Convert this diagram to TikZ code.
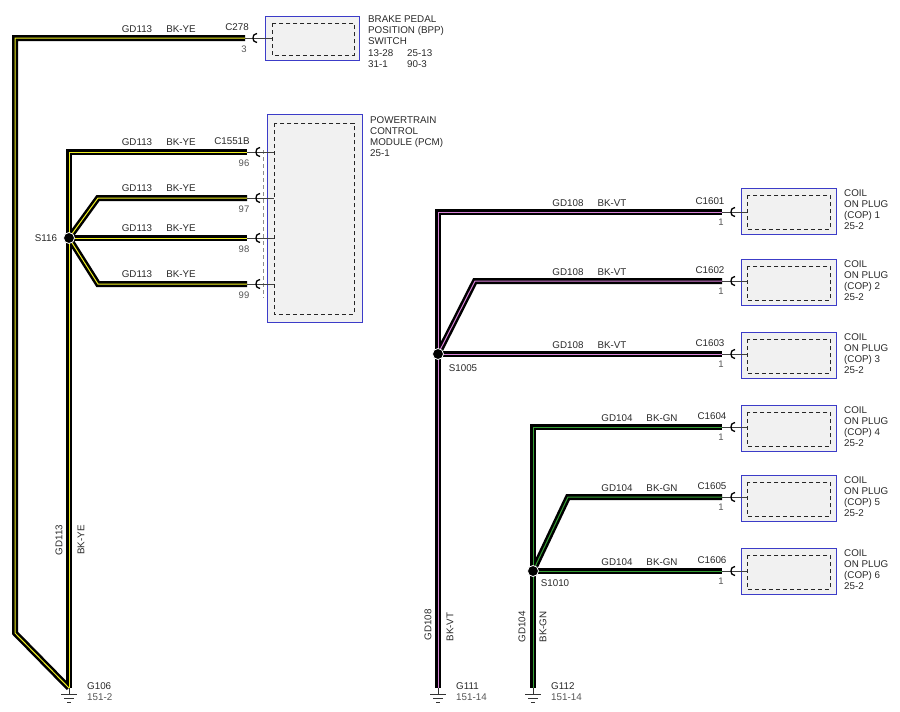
\documentclass[tikz,border=0pt]{standalone}
\usepackage{fontspec}
\setmainfont{Liberation Sans}
\usetikzlibrary{calc}
\definecolor{txt}{HTML}{2A2A2A}
\definecolor{pintxt}{HTML}{555555}
\definecolor{boxblue}{HTML}{3C3CC8}
\definecolor{boxfill}{HTML}{F1F1F1}
\definecolor{ye}{HTML}{F0F020}
\definecolor{vt}{HTML}{D880D8}
\definecolor{gn}{HTML}{34A034}
\begin{document}
\begin{tikzpicture}[x=1pt,y=-1pt,
  lbl/.style={font=\fontsize{9.8}{11}\selectfont, text=txt, inner sep=0pt},
  pinlbl/.style={font=\fontsize{9.5}{10}\selectfont, text=pintxt, inner sep=0pt, anchor=base},
  wireblk/.style={line width=6pt, black, line join=miter, line cap=butt},
  stripe/.style={line width=1pt, line join=miter, line cap=butt},
  thinw/.style={line width=0.8pt, black!75},
  connsym/.style={line width=1.3pt, black},
  compbox/.style={draw=boxblue, line width=1.1pt, fill=boxfill, anchor=north west, inner sep=0pt},
  innerdash/.style={draw=black!85, line width=0.8pt, dash pattern=on 4pt off 3pt},
  gnd/.style={line width=0.8pt, black!80},
  splice/.style={circle, fill=black, draw=white, line width=0.8pt, minimum size=11pt, inner sep=0pt}
]
\useasboundingbox (0,0) rectangle (900,712);
\fill[white] (0,0) rectangle (900,712);

% ---------- coordinates ----------
% GD113 group
\coordinate (a1) at (245,38);
\coordinate (a2) at (15,38);
\coordinate (a3) at (15,633);
\coordinate (g106) at (69,688);
\coordinate (s116) at (69,238);
\coordinate (p96) at (247,152);
\coordinate (p96b) at (69,152);
\coordinate (p97) at (247,198);
\coordinate (p97b) at (98,198);
\coordinate (p98) at (247,238);
\coordinate (p99) at (247,284);
\coordinate (p99b) at (98,284);
% GD108 group
\coordinate (s1005) at (438,354);
\coordinate (c1) at (722,212);
\coordinate (c1b) at (438,212);
\coordinate (c2) at (722,281);
\coordinate (c2b) at (475,281);
\coordinate (c3) at (722,354);
\coordinate (g111) at (438,688);
% GD104 group
\coordinate (s1010) at (533,571);
\coordinate (c4) at (722,427);
\coordinate (c4b) at (533,427);
\coordinate (c5) at (722,497);
\coordinate (c5b) at (568,497);
\coordinate (c6) at (722,571);
\coordinate (g112) at (533,688);

% ---------- components ----------
\node[compbox, minimum width=94pt, minimum height=44pt] (bpp) at (265,16) {};
\draw[innerdash] ($(bpp.north west)+(7,7)$) rectangle ($(bpp.south east)+(-6,-6)$);
\node[compbox, minimum width=95pt, minimum height=208pt] (pcm) at (267,114) {};
\draw[innerdash] ($(pcm.north west)+(7,9)$) rectangle ($(pcm.south east)+(-9,-9)$);
\coordinate (pcmdt) at (263,150);
\coordinate (pcmdb) at (263,298);
\draw[line width=0.8pt, black!45, dash pattern=on 4pt off 3pt] (pcmdt) -- (pcmdb);

\foreach \i/\t in {1/188,2/259,3/332,4/405,5/475,6/548}{
  \node[compbox, minimum width=95pt, minimum height=46pt] (cop\i) at (741,\t) {};
  \draw[innerdash] ($(cop\i.north west)+(6,7)$) rectangle ($(cop\i.south east)+(-7,-6)$);
  \node[lbl, anchor=base west] (copl\i a) at (844,\t+8) {COIL};
  \node[lbl, anchor=base west] (copl\i b) at (844,\t+19) {ON PLUG};
  \node[lbl, anchor=base west] (copl\i c) at (844,\t+30) {(COP) \i};
  \node[lbl, anchor=base west] (copl\i d) at (844,\t+41) {25-2};
}

% ---------- wires: black ----------
\draw[wireblk] (a1) -- (a2) -- (a3) -- (g106);
\draw[wireblk] (p96) -- (p96b) -- (s116);
\draw[wireblk] (s116) -- (p97b) -- (p97);
\draw[wireblk] (s116) -- (p98);
\draw[wireblk] (s116) -- (p99b) -- (p99);
\draw[wireblk] (s116) -- (g106);
\draw[wireblk] (c1) -- (c1b) -- (s1005);
\draw[wireblk] (s1005) -- (c2b) -- (c2);
\draw[wireblk] (s1005) -- (c3);
\draw[wireblk] (s1005) -- (g111);
\draw[wireblk] (c4) -- (c4b) -- (s1010);
\draw[wireblk] (s1010) -- (c5b) -- (c5);
\draw[wireblk] (s1010) -- (c6);
\draw[wireblk] (s1010) -- (g112);
% ---------- wires: stripes ----------
\draw[stripe, ye] (a1) -- (a2) -- (a3) -- (g106);
\draw[stripe, ye] (p96) -- (p96b) -- (s116);
\draw[stripe, ye] (s116) -- (p97b) -- (p97);
\draw[stripe, ye] (s116) -- (p98);
\draw[stripe, ye] (s116) -- (p99b) -- (p99);
\draw[stripe, ye] (s116) -- (g106);
\draw[stripe, vt] (c1) -- (c1b) -- (s1005);
\draw[stripe, vt] (s1005) -- (c2b) -- (c2);
\draw[stripe, vt] (s1005) -- (c3);
\draw[stripe, vt] (s1005) -- (g111);
\draw[stripe, gn] (c4) -- (c4b) -- (s1010);
\draw[stripe, gn] (s1010) -- (c5b) -- (c5);
\draw[stripe, gn] (s1010) -- (c6);
\draw[stripe, gn] (s1010) -- (g112);

% ---------- splices ----------
\node[splice] (S116) at (s116) {};
\node[splice] (S1005) at (s1005) {};
\node[splice] (S1010) at (s1010) {};
\node[lbl, anchor=center] (S116l) at (46,238) {S116};
\node[lbl, anchor=center] (S1005l) at (463,368) {S1005};
\node[lbl, anchor=center] (S1010l) at (555,583) {S1010};

% ---------- connector pins ----------
\newcommand{\cpin}[3]{% #1 wire end coord, #2 symbol tip x offset, #3 box inner x
  \draw[thinw] (#1) -- ($(#1)+(#3,0)$);
  \draw[connsym] ($(#1)+(#2,0)+(4,-4.5)$) .. controls ($(#1)+(#2,0)+(0.3,-3)$) .. ($(#1)+(#2,0)$)
     .. controls ($(#1)+(#2,0)+(0.3,3)$) .. ($(#1)+(#2,0)+(4,4.5)$);
}
\cpin{a1}{8}{27}
\cpin{p96}{9}{27}
\cpin{p97}{9}{27}
\cpin{p98}{9}{27}
\cpin{p99}{9}{27}
\cpin{c1}{9}{25}
\cpin{c2}{9}{25}
\cpin{c3}{9}{25}
\cpin{c4}{9}{25}
\cpin{c5}{9}{25}
\cpin{c6}{9}{25}

% ---------- wire labels ----------
\node[lbl, anchor=base] (l1) at (137,32) {GD113};
\node[lbl, anchor=base] (l2) at (181,32) {BK-YE};
\node[lbl, anchor=base] (l3) at (237,30.5) {C278};
\node[pinlbl] (l4) at (244,52) {3};

\node[lbl, anchor=base] (m0) at (232,144.5) {C1551B};
\foreach \y/\p in {152/96,198/97,238/98,284/99}{
  \node[lbl, anchor=base] (mg\p) at (137,\y-6.5) {GD113};
  \node[lbl, anchor=base] (mb\p) at (181,\y-6.5) {BK-YE};
  \node[pinlbl] (mp\p) at (244,\y+14) {\p};
}

\foreach \y/\c in {212/1,281/2,354/3}{
  \node[lbl, anchor=base] (ng\c) at (568,\y-5.7) {GD108};
  \node[lbl, anchor=base] (nb\c) at (612,\y-5.7) {BK-VT};
  \node[lbl, anchor=base] (nc\c) at (710,\y-7.7) {C160\c};
  \node[pinlbl] (np\c) at (721,\y+13.3) {1};
}
\foreach \y/\c in {427/4,497/5,571/6}{
  \node[lbl, anchor=base] (ng\c) at (617,\y-5.7) {GD104};
  \node[lbl, anchor=base] (nb\c) at (662,\y-5.7) {BK-GN};
  \node[lbl, anchor=base] (nc\c) at (712,\y-7.7) {C160\c};
  \node[pinlbl] (np\c) at (721,\y+13.3) {1};
}

% component labels
\node[lbl, anchor=base west] (b1) at (368,23) {BRAKE PEDAL};
\node[lbl, anchor=base west] (b2) at (368,34) {POSITION (BPP)};
\node[lbl, anchor=base west] (b3) at (368,45) {SWITCH};
\node[lbl, anchor=base west] (b4) at (368,56) {13-28};
\node[lbl, anchor=base west] (b5) at (407,56) {25-13};
\node[lbl, anchor=base west] (b6) at (368,67) {31-1};
\node[lbl, anchor=base west] (b7) at (407,67) {90-3};

\node[lbl, anchor=base west] (q1) at (370,123.5) {POWERTRAIN};
\node[lbl, anchor=base west] (q2) at (370,134.5) {CONTROL};
\node[lbl, anchor=base west] (q3) at (370,145.5) {MODULE (PCM)};
\node[lbl, anchor=base west] (q4) at (370,156.5) {25-1};

% vertical labels
\node[lbl, rotate=90, anchor=center] (v1) at (59,540) {GD113};
\node[lbl, rotate=90, anchor=center] (v2) at (81,540) {BK-YE};
\node[lbl, rotate=90, anchor=center] (v3) at (428,625) {GD108};
\node[lbl, rotate=90, anchor=center] (v4) at (450,627) {BK-VT};
\node[lbl, rotate=90, anchor=center] (v5) at (522,627) {GD104};
\node[lbl, rotate=90, anchor=center] (v6) at (543,627) {BK-GN};

% ---------- grounds ----------
\foreach \g/\x/\a/\b in {g106/69/G106/151-2, g111/438/G111/151-14, g112/533/G112/151-14}{
  \draw[gnd] (\g) -- ++(0,6);
  \draw[gnd] ($(\g)+(-8,6)$) -- ++(16,0);
  \draw[gnd] ($(\g)+(-5,10)$) -- ++(10,0);
  \draw[gnd] ($(\g)+(-2,14)$) -- ++(4,0);
  \node[lbl, anchor=base west] (\g la) at (\x+18,689.5) {\a};
  \node[lbl, anchor=base west, text=pintxt] (\g lb) at (\x+18,700.5) {\b};
}
\end{tikzpicture}
\end{document}
